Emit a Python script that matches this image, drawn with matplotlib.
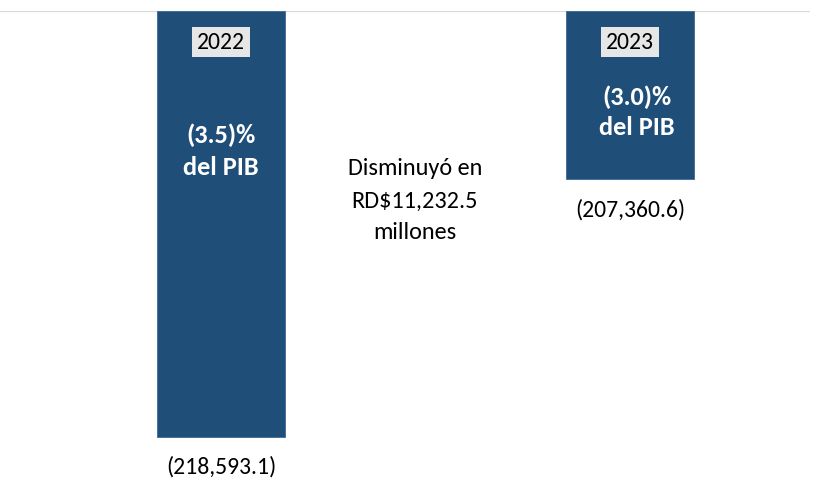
import matplotlib.pyplot as plt

# -----------------------------
# Data
# -----------------------------
years = ["2022", "2023"]
values = [-218593.1, -207360.6]
value_labels = ["(218,593.1)", "(207,360.6)"]
pib_labels = ["(3.5)%\ndel PIB", "(3.0)%\ndel PIB"]
note = "Disminuyó en\nRD$11,232.5\nmillones"

BAR_COLOR = "#1F4E79"
FONT = ["Carlito", "DejaVu Sans"]

# -----------------------------
# Plot
# -----------------------------
fig = plt.figure(figsize=(8.21, 4.79), dpi=100)
ax = fig.add_axes([0, 0, 810 / 821, 1 - 11 / 479])

x = list(range(len(years)))
ax.bar(x, [v + 200000 for v in values], bottom=-200000, width=0.313,
       color=BAR_COLOR, edgecolor="#3b6a96", linewidth=0.6, zorder=2)

ax.set_xlim(-0.540, 1.440)
ax.set_ylim(-220450, -200000)
ax.axhline(-200000, color="#d9d9d9", linewidth=1.6, zorder=1)

for xi, yr, v, vl in zip(x, years, values, value_labels):
    ax.annotate(yr, (xi, -200000), xytext=(0, -22.5), textcoords="offset points",
                ha="center", va="center", fontsize=17, family=FONT, color="black",
                bbox=dict(boxstyle="square,pad=0.2", fc="#e6e6e6", ec="none"),
                zorder=3)
    ax.annotate(vl, (xi, v), xytext=(0, -22), textcoords="offset points",
                ha="center", va="center", fontsize=17, family=FONT, color="black")

# % del PIB labels inside the bars
ax.annotate(pib_labels[0], (x[0], -200000), xytext=(0, -101), textcoords="offset points",
            ha="center", va="center", fontsize=19, family=FONT, fontweight="bold",
            color="white", linespacing=1.5, zorder=3)
ax.annotate(pib_labels[1], (x[1], -200000), xytext=(5, -73), textcoords="offset points",
            ha="center", va="center", fontsize=19, family=FONT, fontweight="bold",
            color="white", linespacing=1.4, zorder=3)

ax.text(0.474, -208300, note, ha="center", va="center", fontsize=17.5,
        family=FONT, color="black", linespacing=1.65)

ax.axis("off")

plt.savefig("out.png", dpi=100)
